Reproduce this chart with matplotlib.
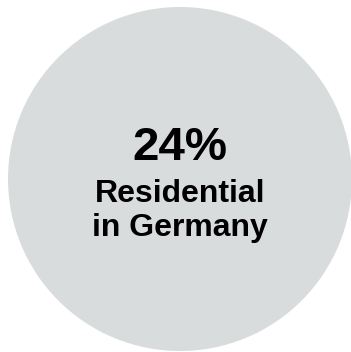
import matplotlib
matplotlib.use("Agg")
import matplotlib.pyplot as plt

# data
share_values = [100]
percent_label = "24%"
caption_lines = ["Residential", "in Germany"]

W, H, DPI = 351, 352, 100
fig = plt.figure(figsize=(W / DPI, H / DPI), dpi=DPI)
fig.patch.set_facecolor("white")
ax = fig.add_axes([0, 0, 1, 1])

ax.pie(share_values, colors=["#d9dcdd"], radius=172, center=(180, 179),
       startangle=90, wedgeprops=dict(linewidth=0), frame=True)
ax.set_xlim(0, W)
ax.set_ylim(H, 0)
ax.set_aspect("equal")
ax.axis("off")

font = "Liberation Sans"
ax.text(180, 160, percent_label, ha="center", va="baseline",
        fontsize=34.2, fontweight="bold", family=font, color="#000000")
ax.text(180, 202, caption_lines[0], ha="center", va="baseline",
        fontsize=23, fontweight="bold", family=font, color="#000000")
ax.text(180, 236, caption_lines[1], ha="center", va="baseline",
        fontsize=23, fontweight="bold", family=font, color="#000000")

fig.savefig("out.png", dpi=DPI, facecolor="white")
